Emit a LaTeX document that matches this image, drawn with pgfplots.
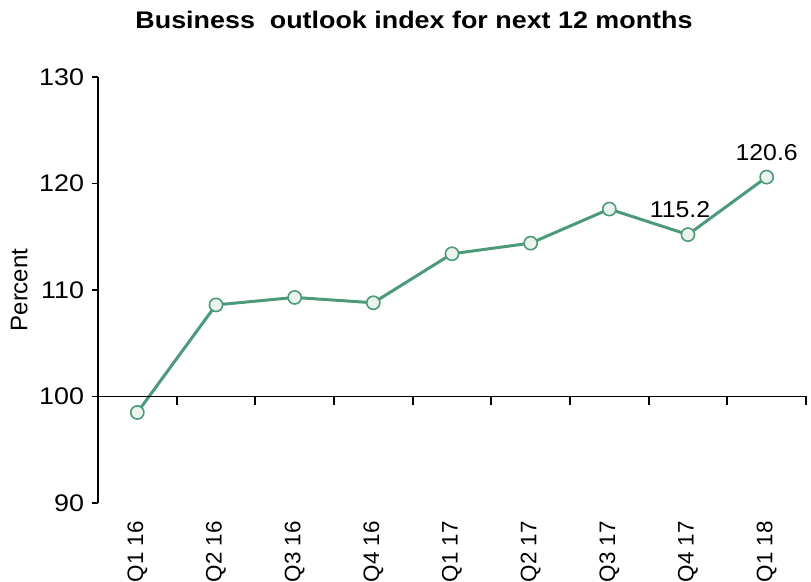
\documentclass[border=0pt]{standalone}
\usepackage{pgfplots}
\pgfplotsset{compat=1.18}
\usepackage{fontspec}
\setmainfont{Liberation Sans}
\definecolor{lc}{RGB}{76,154,122}
\definecolor{mf}{RGB}{234,244,236}
\begin{document}
\begin{tikzpicture}[x=0.5pt,y=0.5pt]
\begin{axis}[
  at={(0,0)}, anchor=south west,
  scale only axis, width=354pt, height=213pt,
  xmin=-0.5, xmax=8.5, ymin=90, ymax=130,
  axis x line*=bottom, axis y line*=left,
  x axis line style={draw=none},
  xtick={0,1,2,3,4,5,6,7,8},
  xticklabels={Q1 16,Q2 16,Q3 16,Q4 16,Q1 17,Q2 17,Q3 17,Q4 17,Q1 18},
  x tick style={draw=none},
  x tick label style={rotate=90, anchor=east, font=\fontsize{11.2}{13}\selectfont, inner sep=0pt, yshift=0pt, xshift=-6pt},
  ytick={90,100,110,120,130},
  tick align=outside, major tick length=3pt,
  y tick style={black, line width=0.9pt},
  axis line style={black, line width=0.9pt},
  y tick label style={font=\fontsize{12}{14}\selectfont, xscale=1.12, /pgf/number format/assume math mode=true},
  ylabel={Percent}, ylabel style={font=\fontsize{12}{14}\selectfont, yshift=-1.5pt},
  clip=false,
]
\addplot[lc, line width=1.5pt, mark=*, mark size=3.3pt,
  mark options={fill=mf, draw=lc, line width=0.8pt}] coordinates {
  (0,98.5) (1,108.6) (2,109.3) (3,108.8) (4,113.4) (5,114.4) (6,117.6) (7,115.2) (8,120.6)};
\draw[black, line width=0.9pt] (axis cs:-0.5,100) -- (axis cs:8.5,100);
\pgfplotsinvokeforeach{0.5,1.5,2.5,3.5,4.5,5.5,6.5,7.5,8.5}{
  \draw[black, line width=0.9pt] (axis cs:#1,100) -- ([yshift=-4.5pt]axis cs:#1,100);
}
\node[anchor=south, font=\fontsize{11.5}{13}\selectfont, xscale=1.08, inner sep=0pt] at ([xshift=-4pt, yshift=8pt]axis cs:7,115.2) {115.2};
\node[anchor=south, font=\fontsize{11.5}{13}\selectfont, xscale=1.08, inner sep=0pt] at ([yshift=8pt]axis cs:8,120.6) {120.6};
\end{axis}
\node[font=\bfseries\fontsize{12}{14}\selectfont, xscale=1.12] at (316,483) {Business\ \ outlook index for next 12 months};
\pgfresetboundingbox
\useasboundingbox (-98,-79) rectangle (713,503);
\end{tikzpicture}
\end{document}
